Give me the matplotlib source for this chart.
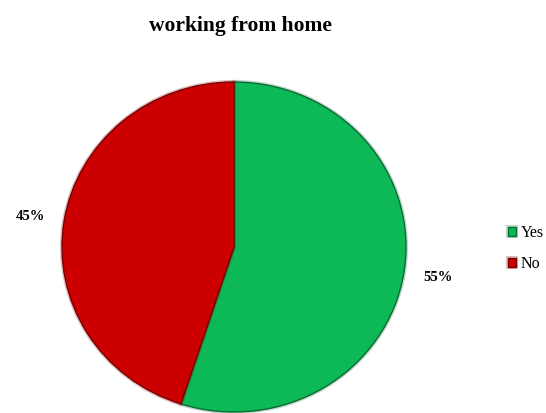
import matplotlib
matplotlib.use("Agg")
import matplotlib.pyplot as plt
import matplotlib.patheffects as pe

labels = ["Yes", "No"]
shares = [55, 45]
colors = ["#0db957", "#cc0000"]
edges = ["#0a6b33", "#7a0000"]

plt.rcParams["font.family"] = ["Liberation Serif", "DejaVu Serif"]

fig = plt.figure(figsize=(5.46, 4.13), dpi=100)

# pie box in pixels: x 62..406, y 82..412 (slightly wider than tall)
W, H = 546, 413
ax = fig.add_axes([62 / W, (H - 412) / H, 344 / W, 330 / H])

wedges, texts, pcts = ax.pie(
    shares,
    colors=colors,
    startangle=90,
    counterclock=False,
    autopct="%1.0f%%",
    pctdistance=1.2,
    wedgeprops=dict(linewidth=1.0),
    textprops=dict(fontsize=10.5, fontweight="bold"),
)
for w, ec in zip(wedges, edges):
    w.set_edgecolor(ec)
    # soft darker rim for a bevelled look
    w.set_path_effects([pe.Stroke(linewidth=3, foreground=ec, alpha=0.25),
                        pe.Normal()])

ax.set_aspect("auto")
ax.set_xlim(-1, 1)
ax.set_ylim(-1, 1)
ax.axis("off")

fig.text(0.44, 1 - 26 / H, "working from home", ha="center", va="center",
         fontsize=15.5, fontweight="bold")

fig.legend(wedges, labels, loc="center left", bbox_to_anchor=(0.918, 0.398),
           frameon=False, fontsize=11.5, handlelength=0.55, handleheight=0.55,
           handletextpad=0.25, labelspacing=0.95, borderaxespad=0)

fig.savefig("out.png", dpi=100)
